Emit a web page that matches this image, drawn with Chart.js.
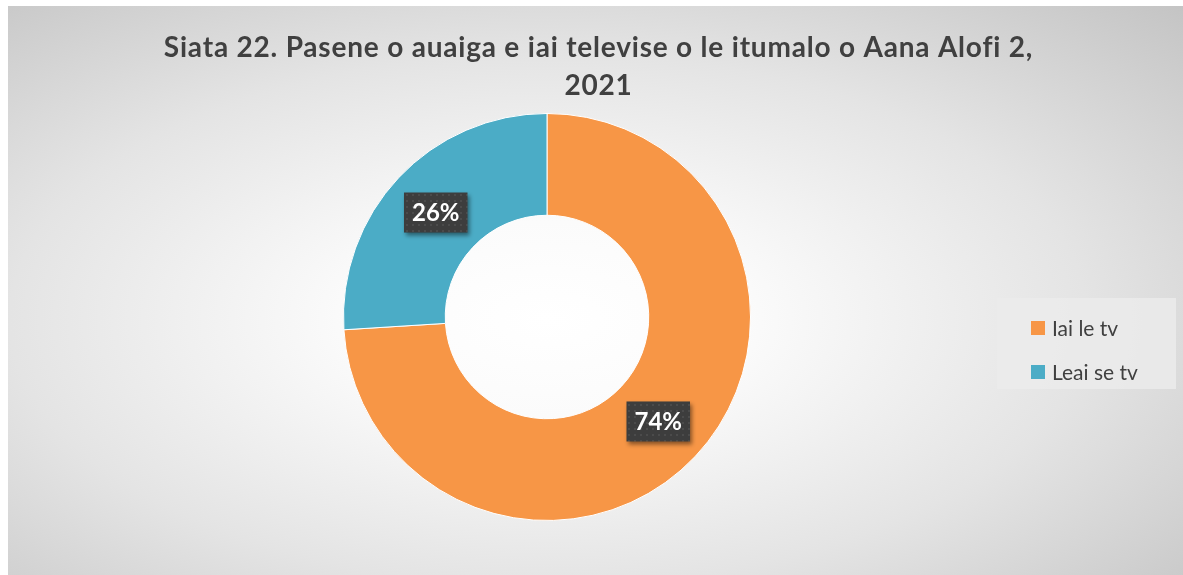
<!DOCTYPE html>
<html>
<head>
<meta charset="utf-8">
<script src="https://cdn.jsdelivr.net/npm/chart.js@4.4.1/dist/chart.umd.min.js"></script>
<style>
  body { margin: 0; background: #fff; }
  #quadro {
    position: absolute; left: 8px; top: 6px; width: 1175px; height: 569px;
    background: radial-gradient(ellipse farthest-corner at 46% 55%, #ffffff 0%, #fbfbfb 22%, #e4e4e4 60%, #c4c4c4 100%);
  }
</style>
</head>
<body>
<div id="quadro"><canvas id="chartTv" width="1175" height="569"></canvas></div>
<script>
const titulo = ['Siata 22. Pasene o auaiga e iai televise o le itumalo o Aana Alofi 2,', '2021'];
const categorias = ['Iai le tv', 'Leai se tv'];
const valores = [74, 26];
const cores = ['#F79646', '#4BACC6'];

const tvChart = document.getElementById('chartTv');

function padraoPontos(ctx) {
  const tile = document.createElement('canvas');
  tile.width = 6;
  tile.height = 6;
  const t = tile.getContext('2d');
  t.fillStyle = '#3d3d3d';
  t.fillRect(0, 0, 6, 6);
  t.fillStyle = '#4b4b4b';
  t.fillRect(2, 2, 2, 2);
  return ctx.createPattern(tile, 'repeat');
}

// título centrado em todo o quadro (o padding da direita é só para a rosca)
const tituloPlugin = {
  id: 'tituloPlugin',
  afterDraw(chart) {
    const ctx = chart.ctx;
    ctx.save();
    ctx.font = 'bold 28px Lato';
    ctx.letterSpacing = '0.8px';
    ctx.fillStyle = '#404040';
    ctx.textAlign = 'center';
    ctx.textBaseline = 'alphabetic';
    titulo.forEach(function (linha, i) {
      ctx.fillText(linha, chart.width / 2 + 3, 51 + i * 38);
    });
    ctx.restore();
  }
};

// rótulos de porcentagem sobre cada fatia
const rotulos = {
  id: 'rotulos',
  afterDatasetsDraw(chart) {
    const ctx = chart.ctx;
    const meta = chart.getDatasetMeta(0);
    const total = valores.reduce((a, b) => a + b, 0);
    ctx.save();
    ctx.font = 'bold 24px Lato';
    ctx.textAlign = 'center';
    ctx.textBaseline = 'middle';
    meta.data.forEach(function (arco, i) {
      const pos = arco.tooltipPosition();
      const texto = Math.round(valores[i] / total * 100) + '%';
      const w = ctx.measureText(texto).width + 16;
      const h = 40;
      ctx.save();
      ctx.shadowColor = 'rgba(0,0,0,0.45)';
      ctx.shadowBlur = 4;
      ctx.shadowOffsetX = 2;
      ctx.shadowOffsetY = 3;
      ctx.fillStyle = padraoPontos(ctx);
      ctx.fillRect(pos.x - w / 2, pos.y - h / 2, w, h);
      ctx.restore();
      ctx.fillStyle = '#ffffff';
      ctx.fillText(texto, pos.x, pos.y + 1);
    });
    ctx.restore();
  }
};

// legenda à direita com fundo claro
const legenda = {
  id: 'legenda',
  afterDraw(chart) {
    const ctx = chart.ctx;
    const x0 = chart.width - 186;
    const y0 = 292;
    ctx.save();
    ctx.fillStyle = 'rgba(235,235,235,0.85)';
    ctx.fillRect(x0, y0, 179, 91);
    ctx.font = '21px Lato';
    ctx.textBaseline = 'middle';
    categorias.forEach(function (cat, i) {
      const y = y0 + 30 + i * 44;
      ctx.fillStyle = cores[i];
      ctx.fillRect(x0 + 34, y - 7, 14, 14);
      ctx.fillStyle = '#404040';
      ctx.fillText(cat, x0 + 55, y + 1);
    });
    ctx.restore();
  }
};

const graficoTv = new Chart(tvChart, {
  type: 'doughnut',
  data: {
    labels: categorias,
    datasets: [{
      data: valores,
      backgroundColor: cores,
      borderColor: '#ffffff',
      borderWidth: 1,
    }]
  },
  options: {
    responsive: false,
    animation: false,
    cutout: '50%',
    layout: { padding: { left: 0, right: 97, top: 107, bottom: 54 } },
    plugins: {
      legend: { display: false },
      tooltip: { enabled: false },
      title: { display: false }
    }
  },
  plugins: [tituloPlugin, rotulos, legenda]
});
</script>
</body>
</html>
